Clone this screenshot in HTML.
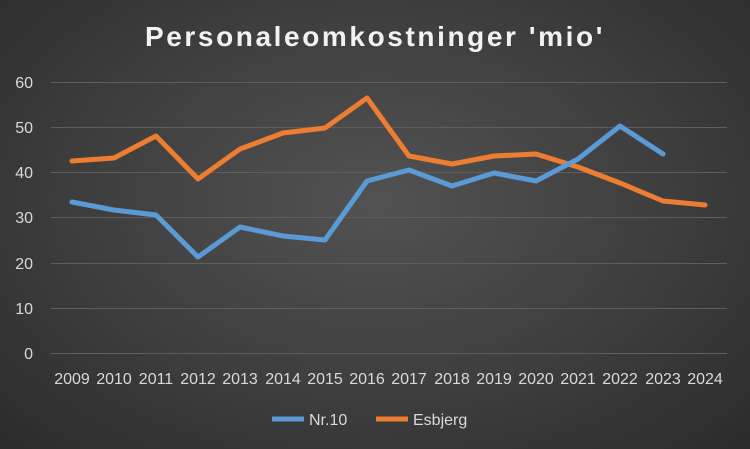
<!DOCTYPE html>
<html><head><meta charset="utf-8"><style>
html,body{margin:0;padding:0;}
body{width:750px;height:449px;overflow:hidden;background:radial-gradient(ellipse at 50% 45%,#525252 0%,#3e3e3e 55%,#2b2b2b 100%);font-family:"Liberation Sans",sans-serif;}
</style></head><body>
<svg width="750" height="449" xmlns="http://www.w3.org/2000/svg" style="position:absolute;left:0;top:0">
<text x="375" y="46" text-anchor="middle" fill="#f2f2f2" font-size="28" font-weight="bold" letter-spacing="2.6" font-family="Liberation Sans, sans-serif">Personaleomkostninger 'mio'</text>
<g stroke="#5e5e5e" stroke-width="1">
<line x1="51" x2="727" y1="82.5" y2="82.5"/><line x1="51" x2="727" y1="127.5" y2="127.5"/>
<line x1="51" x2="727" y1="172.5" y2="172.5"/><line x1="51" x2="727" y1="217.5" y2="217.5"/>
<line x1="51" x2="727" y1="263.5" y2="263.5"/><line x1="51" x2="727" y1="308.5" y2="308.5"/>
<line x1="51" x2="727" y1="353.5" y2="353.5"/>
</g>
<g fill="#d9d9d9" font-size="16" text-anchor="end">
<text x="33" y="88">60</text><text x="33" y="133">50</text><text x="33" y="178">40</text>
<text x="33" y="223">30</text><text x="33" y="269">20</text><text x="33" y="314">10</text><text x="33" y="359">0</text>
</g>
<g fill="#d9d9d9" font-size="16" text-anchor="middle">
<text x="72" y="384">2009</text><text x="114" y="384">2010</text><text x="156" y="384">2011</text><text x="198" y="384">2012</text>
<text x="240" y="384">2013</text><text x="283" y="384">2014</text><text x="325" y="384">2015</text><text x="367" y="384">2016</text>
<text x="409" y="384">2017</text><text x="452" y="384">2018</text><text x="494" y="384">2019</text><text x="536" y="384">2020</text>
<text x="578" y="384">2021</text><text x="620" y="384">2022</text><text x="663" y="384">2023</text><text x="705" y="384">2024</text>
</g>
<polyline fill="none" stroke="#ed7d31" stroke-width="5" stroke-linejoin="round" stroke-linecap="round"
points="72,161 114,158 156,136 198,179 240,149 283,133 325,128 367,98 409,156 452,164 494,156 536,154 578,167 620,183 663,201 705,205"/>
<polyline fill="none" stroke="#5b9bd5" stroke-width="5" stroke-linejoin="round" stroke-linecap="round"
points="72,202 114,210 156,215 198,257 240,227 283,236 325,240 367,181 409,170 452,186 494,173 536,181 578,159 620,126 663,154"/>
<line x1="272" x2="304" y1="419" y2="419" stroke="#5b9bd5" stroke-width="5"/>
<text x="309" y="425" fill="#d9d9d9" font-size="16">Nr.10</text>
<line x1="376" x2="408" y1="419" y2="419" stroke="#ed7d31" stroke-width="5"/>
<text x="413" y="425" fill="#d9d9d9" font-size="16">Esbjerg</text>
</svg>
</body></html>
